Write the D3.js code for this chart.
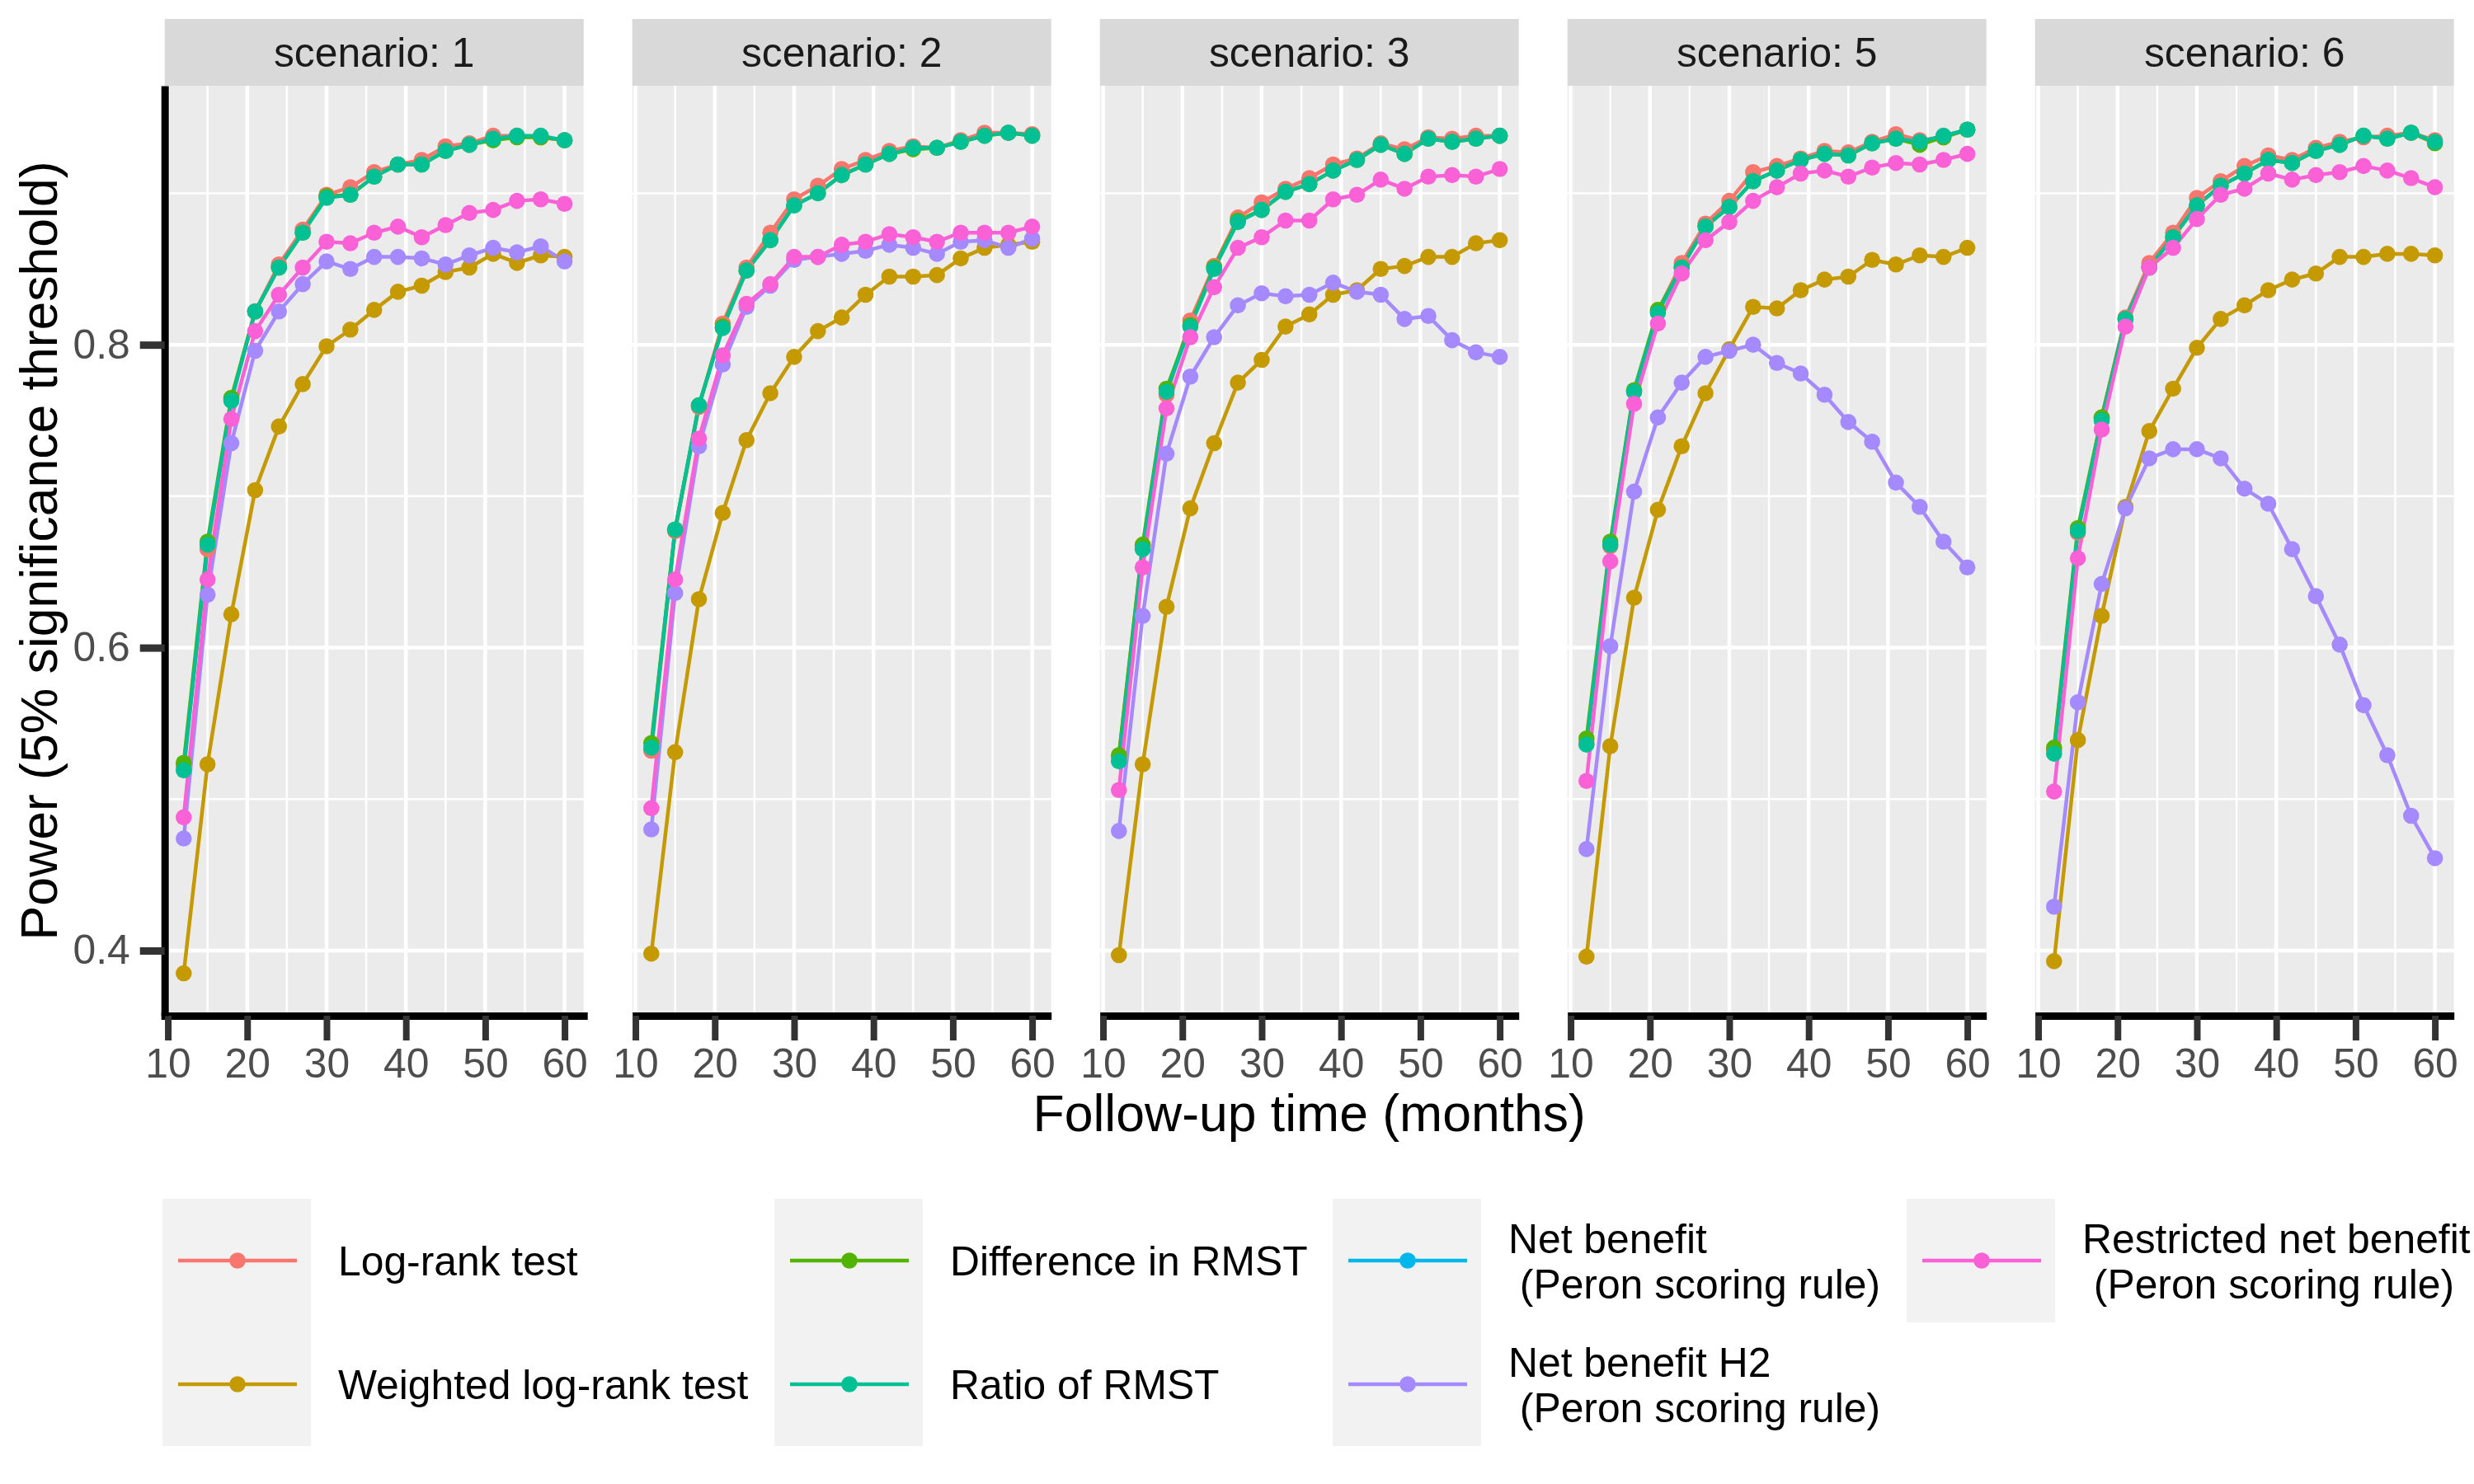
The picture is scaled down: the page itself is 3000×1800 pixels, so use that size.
<!DOCTYPE html>
<html>
<head>
<meta charset="utf-8">
<script src="https://cdn.jsdelivr.net/npm/d3@7"></script>
<style>
  body { margin: 0; background: #fff; }
  text { font-family: 'Liberation Sans', Arial, sans-serif; }
</style>
</head>
<body>
<script>
// follow-up times (months) and facets
var months = [12, 15, 18, 21, 24, 27, 30, 33, 36, 39, 42, 45, 48, 51, 54, 57, 60];
var scenarios = ['1', '2', '3', '5', '6'];
var xTicks = [10, 20, 30, 40, 50, 60];
var yTicks = [0.4, 0.6, 0.8];

// power per method, one row per scenario (1, 2, 3, 5, 6)
var logRank = [
    [0.522, 0.665, 0.764, 0.822, 0.853, 0.876, 0.899, 0.904, 0.914, 0.919, 0.922, 0.931, 0.933, 0.938, 0.938, 0.937, 0.935],
    [0.532, 0.677, 0.759, 0.814, 0.851, 0.874, 0.896, 0.905, 0.916, 0.922, 0.928, 0.931, 0.930, 0.935, 0.940, 0.940, 0.939],
    [0.528, 0.667, 0.767, 0.816, 0.852, 0.884, 0.894, 0.903, 0.910, 0.919, 0.923, 0.933, 0.929, 0.937, 0.936, 0.938, 0.938],
    [0.537, 0.667, 0.769, 0.822, 0.854, 0.880, 0.895, 0.914, 0.918, 0.923, 0.928, 0.927, 0.934, 0.939, 0.935, 0.937, 0.942],
    [0.532, 0.676, 0.752, 0.818, 0.854, 0.874, 0.897, 0.908, 0.918, 0.925, 0.922, 0.930, 0.934, 0.937, 0.938, 0.940, 0.935]
];
var weightedLogRank = [
    [0.385, 0.523, 0.622, 0.704, 0.746, 0.774, 0.799, 0.810, 0.823, 0.835, 0.839, 0.848, 0.851, 0.860, 0.854, 0.859, 0.858],
    [0.398, 0.531, 0.632, 0.689, 0.737, 0.768, 0.792, 0.809, 0.818, 0.833, 0.845, 0.845, 0.846, 0.857, 0.864, 0.866, 0.868],
    [0.397, 0.523, 0.627, 0.692, 0.735, 0.775, 0.790, 0.812, 0.820, 0.833, 0.836, 0.850, 0.852, 0.858, 0.858, 0.867, 0.869],
    [0.396, 0.535, 0.633, 0.691, 0.733, 0.768, 0.797, 0.825, 0.824, 0.836, 0.843, 0.845, 0.856, 0.853, 0.859, 0.858, 0.864],
    [0.393, 0.539, 0.621, 0.693, 0.743, 0.771, 0.798, 0.817, 0.826, 0.836, 0.843, 0.847, 0.858, 0.858, 0.860, 0.860, 0.859]
];
var diffRMST = [
    [0.524, 0.670, 0.765, 0.822, 0.851, 0.874, 0.898, 0.899, 0.911, 0.919, 0.919, 0.928, 0.932, 0.935, 0.937, 0.937, 0.935],
    [0.537, 0.678, 0.760, 0.812, 0.849, 0.869, 0.892, 0.900, 0.912, 0.919, 0.926, 0.929, 0.930, 0.934, 0.938, 0.940, 0.938],
    [0.529, 0.668, 0.771, 0.813, 0.851, 0.882, 0.889, 0.901, 0.906, 0.915, 0.922, 0.932, 0.926, 0.936, 0.934, 0.936, 0.938],
    [0.540, 0.670, 0.770, 0.823, 0.851, 0.878, 0.891, 0.908, 0.915, 0.922, 0.926, 0.925, 0.933, 0.936, 0.932, 0.937, 0.942],
    [0.534, 0.679, 0.752, 0.817, 0.851, 0.871, 0.892, 0.905, 0.913, 0.922, 0.920, 0.928, 0.932, 0.938, 0.936, 0.940, 0.933]
];
var ratioRMST = [
    [0.519, 0.668, 0.763, 0.822, 0.851, 0.874, 0.897, 0.899, 0.911, 0.919, 0.919, 0.928, 0.932, 0.936, 0.938, 0.938, 0.935],
    [0.534, 0.678, 0.760, 0.811, 0.849, 0.869, 0.892, 0.900, 0.912, 0.919, 0.926, 0.930, 0.930, 0.934, 0.938, 0.940, 0.938],
    [0.525, 0.665, 0.769, 0.812, 0.850, 0.881, 0.889, 0.901, 0.906, 0.915, 0.922, 0.932, 0.926, 0.936, 0.934, 0.936, 0.938],
    [0.536, 0.668, 0.769, 0.821, 0.851, 0.878, 0.891, 0.908, 0.915, 0.922, 0.926, 0.925, 0.933, 0.936, 0.934, 0.938, 0.942],
    [0.530, 0.677, 0.750, 0.817, 0.851, 0.871, 0.892, 0.905, 0.913, 0.922, 0.920, 0.928, 0.932, 0.938, 0.936, 0.940, 0.934]
];
// no net benefit values are plotted in the figure, only its legend key
var netBenefit = [[], [], [], [], []];
var netBenefitH2 = [
    [0.474, 0.635, 0.735, 0.796, 0.822, 0.840, 0.855, 0.850, 0.858, 0.858, 0.857, 0.853, 0.859, 0.864, 0.861, 0.865, 0.855],
    [0.480, 0.636, 0.733, 0.787, 0.825, 0.839, 0.856, 0.858, 0.860, 0.862, 0.866, 0.864, 0.860, 0.868, 0.869, 0.864, 0.870],
    [0.479, 0.621, 0.728, 0.779, 0.805, 0.826, 0.834, 0.832, 0.833, 0.841, 0.835, 0.833, 0.817, 0.819, 0.803, 0.795, 0.792],
    [0.467, 0.601, 0.703, 0.752, 0.775, 0.792, 0.796, 0.800, 0.788, 0.781, 0.767, 0.749, 0.736, 0.709, 0.693, 0.670, 0.653],
    [0.429, 0.564, 0.642, 0.692, 0.725, 0.731, 0.731, 0.725, 0.705, 0.695, 0.665, 0.634, 0.602, 0.562, 0.529, 0.489, 0.461]
];
var restrictedNB = [
    [0.488, 0.645, 0.751, 0.809, 0.833, 0.851, 0.868, 0.867, 0.874, 0.878, 0.871, 0.879, 0.887, 0.889, 0.895, 0.896, 0.893],
    [0.494, 0.645, 0.738, 0.793, 0.827, 0.840, 0.858, 0.858, 0.866, 0.868, 0.873, 0.871, 0.868, 0.874, 0.874, 0.874, 0.878],
    [0.506, 0.653, 0.758, 0.805, 0.838, 0.864, 0.871, 0.882, 0.882, 0.896, 0.899, 0.909, 0.903, 0.911, 0.912, 0.911, 0.916],
    [0.512, 0.657, 0.761, 0.814, 0.847, 0.869, 0.881, 0.895, 0.904, 0.913, 0.915, 0.911, 0.917, 0.920, 0.919, 0.922, 0.926],
    [0.505, 0.659, 0.744, 0.812, 0.851, 0.864, 0.883, 0.899, 0.903, 0.913, 0.909, 0.912, 0.914, 0.918, 0.915, 0.910, 0.904]
];

var methodLabels = [
    ['Log-rank test'],
    ['Weighted log-rank test'],
    ['Difference in RMST'],
    ['Ratio of RMST'],
    ['Net benefit', ' (Peron scoring rule)'],
    ['Net benefit H2', ' (Peron scoring rule)'],
    ['Restricted net benefit', ' (Peron scoring rule)']
];
var methodColors = ['#F8766D', '#C49A00', '#53B400', '#00C094', '#00B6EB', '#A58AFF', '#FB61D7'];
var series = [logRank, weightedLogRank, diffRMST, ratioRMST, netBenefit, netBenefitH2, restrictedNB];

// layout
var W = 3000, H = 1800;
var panelLeft0 = 199.7, panelStep = 567, panelW = 508;
var stripTop = 23, panelTop = 104, panelBottom = 1232;
var textSize = 49.8, titleSize = 62.5;

var svg = d3.select('body').append('svg')
    .attr('width', W)
    .attr('height', H);
svg.append('rect').attr('width', W).attr('height', H).attr('fill', '#fff');

var y = d3.scaleLinear().domain([0.357, 0.971]).range([panelBottom, panelTop]);

function midpoints(arr) {
    var out = [];
    for (var i = 0; i < arr.length - 1; i++) out.push((arr[i] + arr[i + 1]) / 2);
    return out;
}

scenarios.forEach(function(sc, i) {
    var left = panelLeft0 + i * panelStep;
    var x = d3.scaleLinear().domain([9.6, 62.4]).range([left, left + panelW]);
    var g = svg.append('g').attr('class', 'panel');

    // strip
    g.append('rect')
        .attr('x', left).attr('y', stripTop)
        .attr('width', panelW).attr('height', panelTop - stripTop)
        .attr('fill', '#D9D9D9');
    g.append('text')
        .attr('x', left + panelW / 2).attr('y', (stripTop + panelTop) / 2)
        .attr('dy', '0.36em')
        .attr('text-anchor', 'middle')
        .attr('font-size', textSize)
        .attr('fill', '#1A1A1A')
        .text('scenario: ' + sc);

    // panel background + grid
    g.append('rect')
        .attr('x', left).attr('y', panelTop)
        .attr('width', panelW).attr('height', panelBottom - panelTop)
        .attr('fill', '#EBEBEB');

    var xMinor = midpoints(xTicks), yMinor = midpoints(yTicks).concat([0.9]);
    g.selectAll('.xminor').data(xMinor).enter().append('line')
        .attr('x1', function(d) { return x(d); }).attr('x2', function(d) { return x(d); })
        .attr('y1', panelTop).attr('y2', panelBottom)
        .attr('stroke', '#fff').attr('stroke-width', 2.5);
    g.selectAll('.yminor').data(yMinor).enter().append('line')
        .attr('x1', left).attr('x2', left + panelW)
        .attr('y1', function(d) { return y(d); }).attr('y2', function(d) { return y(d); })
        .attr('stroke', '#fff').attr('stroke-width', 2.5);
    g.selectAll('.xmajor').data(xTicks).enter().append('line')
        .attr('x1', function(d) { return x(d); }).attr('x2', function(d) { return x(d); })
        .attr('y1', panelTop).attr('y2', panelBottom)
        .attr('stroke', '#fff').attr('stroke-width', 4.5);
    g.selectAll('.ymajor').data(yTicks).enter().append('line')
        .attr('x1', left).attr('x2', left + panelW)
        .attr('y1', function(d) { return y(d); }).attr('y2', function(d) { return y(d); })
        .attr('stroke', '#fff').attr('stroke-width', 4.5);

    // lines first, then points (as ggplot layers)
    var line = d3.line()
        .x(function(d) { return x(d[0]); })
        .y(function(d) { return y(d[1]); });

    series.forEach(function(s, k) {
        var vals = s[i];
        if (!vals.length) return;
        g.append('path')
            .datum(d3.zip(months, vals))
            .attr('d', line)
            .attr('fill', 'none')
            .attr('stroke', methodColors[k])
            .attr('stroke-width', 4.5)
            .attr('stroke-linejoin', 'round');
    });
    series.forEach(function(s, k) {
        var vals = s[i];
        if (!vals.length) return;
        g.selectAll('.pt' + k).data(d3.zip(months, vals)).enter().append('circle')
            .attr('cx', function(d) { return x(d[0]); })
            .attr('cy', function(d) { return y(d[1]); })
            .attr('r', 9.8)
            .attr('fill', methodColors[k]);
    });

    // x axis on every panel
    var xa = g.append('g')
        .attr('transform', 'translate(0,' + panelBottom + ')')
        .call(d3.axisBottom(x).tickValues(xTicks).tickSize(30).tickSizeOuter(0).tickPadding(10).tickFormat(d3.format('d')));
    xa.select('.domain').attr('stroke', '#000').attr('stroke-width', 9)
        .attr('stroke-linecap', i === 0 ? 'square' : 'butt');
    xa.selectAll('.tick line').attr('stroke', '#333333').attr('stroke-width', 8);
    xa.selectAll('.tick text').attr('fill', '#4D4D4D').attr('font-size', textSize)
        .attr('font-family', "'Liberation Sans', Arial, sans-serif");

    // y axis only on first panel
    if (i === 0) {
        var ya = g.append('g')
            .attr('transform', 'translate(' + left + ',0)')
            .call(d3.axisLeft(y).tickValues(yTicks).tickSize(30).tickSizeOuter(0).tickPadding(12).tickFormat(d3.format('.1f')));
        ya.select('.domain').attr('stroke', '#000').attr('stroke-width', 9);
        ya.selectAll('.tick line').attr('stroke', '#333333').attr('stroke-width', 9);
        ya.selectAll('.tick text').attr('fill', '#4D4D4D').attr('font-size', textSize)
            .attr('font-family', "'Liberation Sans', Arial, sans-serif");
    }
});

// axis titles
svg.append('text')
    .attr('x', (panelLeft0 + panelLeft0 + 4 * panelStep + panelW) / 2)
    .attr('y', 1372)
    .attr('text-anchor', 'middle')
    .attr('font-size', titleSize)
    .text('Follow-up time (months)');
svg.append('text')
    .attr('transform', 'translate(69,' + (panelTop + panelBottom) / 2 + ') rotate(-90)')
    .attr('text-anchor', 'middle')
    .attr('font-size', titleSize)
    .text('Power (5% significance threshold)');

// legend: 2 rows, filled by column
var legendCols = [197, 939, 1616, 2312];
var keyW = 180, keyH = 150, legendTop = 1454, lineGap = 55;

methodLabels.forEach(function(lab, k) {
    var col = Math.floor(k / 2), row = k % 2;
    var kx = legendCols[col], ky = legendTop + row * keyH;
    var cy = ky + keyH / 2;
    var lg = svg.append('g').attr('class', 'legend-item');
    lg.append('rect')
        .attr('x', kx).attr('y', ky).attr('width', keyW).attr('height', keyH)
        .attr('fill', '#F2F2F2');
    lg.append('line')
        .attr('x1', kx + 19).attr('x2', kx + 163)
        .attr('y1', cy).attr('y2', cy)
        .attr('stroke', methodColors[k]).attr('stroke-width', 4.5);
    lg.append('circle')
        .attr('cx', kx + 91).attr('cy', cy).attr('r', 9.8)
        .attr('fill', methodColors[k]);
    var t = lg.append('text')
        .attr('font-size', textSize)
        .style('white-space', 'pre');
    var first = cy + 18 - (lab.length - 1) * lineGap / 2;
    lab.forEach(function(l, j) {
        t.append('tspan')
            .attr('x', kx + 213)
            .attr('y', first + j * lineGap)
            .text(l);
    });
});
</script>
</body>
</html>
